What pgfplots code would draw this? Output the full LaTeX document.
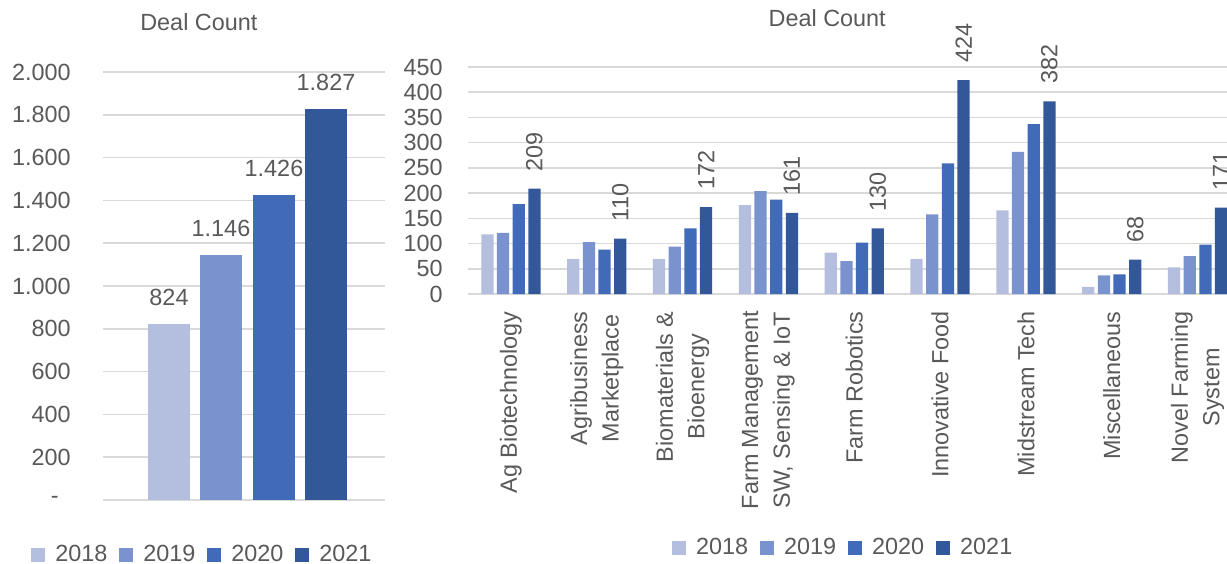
\documentclass[border=0pt]{standalone}
\usepackage{fontspec}
\setmainfont{Liberation Sans}
\usepackage{pgfplots}
\pgfplotsset{compat=1.18}
\definecolor{c18}{RGB}{180,191,223}
\definecolor{c19}{RGB}{122,146,206}
\definecolor{c20}{RGB}{65,106,184}
\definecolor{c21}{RGB}{50,88,153}
\definecolor{txt}{RGB}{89,89,89}
\definecolor{grd}{RGB}{217,217,217}
\newcommand\f{\fontsize{11.7bp}{14bp}\selectfont}
\pgfplotsset{
 common/.style={
  scale only axis, anchor=south west, clip=false,
  axis line style={draw=none},
  ymajorgrids, grid style={grd, line width=0.75bp},
  major tick length=0pt,
  ticklabel style={font=\f, text=txt, inner sep=0pt},
  /pgf/number format/assume math mode=true,
  ybar,
  legend style={draw=none, fill=none, font=\f, text=txt, legend columns=4,
    /tikz/every odd column/.append style={column sep=3bp},
    /tikz/every even column/.append style={column sep=4bp}},
  legend image code/.code={\fill[##1] (0bp,-3.5bp) rectangle (7bp,3.5bp);},
  every axis title shift=0pt,
  title style={font=\f, text=txt, anchor=center, inner sep=0pt},
 }
}
\begin{document}
\begin{tikzpicture}
\path[use as bounding box] (0bp,0bp) rectangle (613.5bp,282bp);
% left chart: totals
\begin{axis}[common, at={(51.5bp,32bp)}, width=141bp, height=214bp,
  xmin=-1, xmax=1, ymin=0, ymax=2000, xtick=\empty,
  ytick={0,200,...,2000},
  yticklabels={-\rule{6bp}{0pt},200,400,600,800,1.000,1.200,1.400,1.600,1.800,2.000},
  yticklabel shift=16bp,
  bar width=21bp,
  title={Deal Count}, title style={at={(0.34,1.117)}, anchor=center},
  legend style={at={(0.356,-0.1285)}, anchor=center},
  nodes near coords, /pgf/number format/1000 sep={.},
  nodes near coords style={font=\f, text=txt, anchor=south, inner xsep=0pt, inner ysep=9bp},
]
\addplot[fill=c18, draw=none, bar shift=-37.5bp] coordinates {(0,824)};
\addplot[fill=c19, draw=none, bar shift=-11.5bp] coordinates {(0,1146)};
\addplot[fill=c20, draw=none, bar shift=15bp] coordinates {(0,1426)};
\addplot[fill=c21, draw=none, bar shift=41bp] coordinates {(0,1827)};
\legend{2018,2019,2020,2021}
\end{axis}
% right chart: by category
\begin{axis}[common, at={(234bp,135bp)}, width=386.25bp, height=113.5bp,
  xmin=-0.5, xmax=8.5, ymin=0, ymax=450,
  ytick={0,50,...,450}, yticklabel shift=12.5bp,
  xtick={0,...,8},
  xticklabels={Ag Biotechnology, {Agribusiness\\Marketplace}, {Biomaterials \&\\Bioenergy},
    {Farm Management\\SW, Sensing \& IoT}, Farm Robotics, Innovative Food, Midstream Tech,
    Miscellaneous, {Novel Farming\\System}},
  xticklabel style={rotate=90, anchor=east, align=center, font=\fontsize{11.7bp}{15.8bp}\selectfont},
  xticklabel shift=8.5bp,
  bar width=6.15bp,
  title={Deal Count}, title style={at={(0.465,1.216)}, anchor=center},
  legend style={at={(0.487,-1.119)}, anchor=center},
]
\addplot[fill=c18, draw=none, bar shift=-11.75bp] coordinates {(0,118) (1,69) (2,69) (3,176) (4,82) (5,69) (6,166) (7,14) (8,53)};
\addplot[fill=c19, draw=none, bar shift=-3.92bp] coordinates {(0,121) (1,103) (2,94) (3,204) (4,65) (5,158) (6,282) (7,37) (8,75)};
\addplot[fill=c20, draw=none, bar shift=3.92bp] coordinates {(0,178) (1,88) (2,130) (3,187) (4,102) (5,259) (6,337) (7,39) (8,98)};
\addplot[fill=c21, draw=none, bar shift=11.75bp, nodes near coords,
  nodes near coords style={font=\f, text=txt, rotate=90, anchor=west, inner xsep=8.5bp, inner ysep=0pt}]
  coordinates {(0,209) (1,110) (2,172) (3,161) (4,130) (5,424) (6,382) (7,68) (8,171)};
\legend{2018,2019,2020,2021}
\end{axis}
\end{tikzpicture}
\end{document}
